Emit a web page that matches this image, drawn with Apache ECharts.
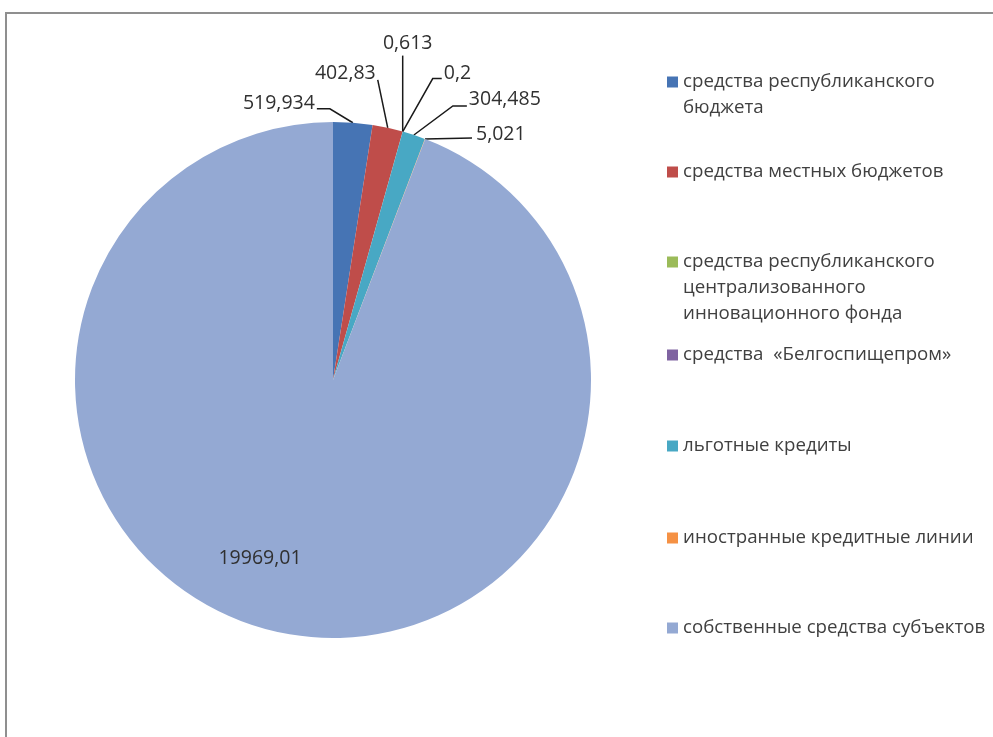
<!DOCTYPE html>
<html>
<head>
<meta charset="utf-8">
<script src="https://cdn.jsdelivr.net/npm/echarts@6/dist/echarts.min.js"></script>
<style>
  html, body { margin: 0; padding: 0; background: #ffffff; }
  #chart { width: 993px; height: 737px; }
</style>
</head>
<body>
<div id="chart"></div>
<script>
// Funding sources (legend names; "\n" marks where the legend text wraps)
const categories = [
  'средства республиканского\nбюджета',
  'средства местных бюджетов',
  'средства республиканского\nцентрализованного\nинновационного фонда',
  'средства  «Белгоспищепром»',
  'льготные кредиты',
  'иностранные кредитные линии',
  'собственные средства субъектов'
];
const values = [519.934, 402.83, 0.613, 0.2, 304.485, 5.021, 19969.01];
const colors = ['#4674B4', '#BF4D4A', '#9BBB59', '#7F63A1', '#48A8C4', '#F59144', '#94A9D3'];

const FONT = '"Open Sans", "Noto Sans", sans-serif';
const TEXT_COLOR = '#404040';
const LINE_H = 26;

// first-line centre of each legend entry
const legendRows = [82, 172, 262, 355, 446, 538, 628];

// leader-line layout, relative to the slice's anchor point on the rim
const calloutLayout = [
  { line: [[-23, -14], [-36, -14]], text: [-38, -19], align: 'right' },
  { line: [[-10, -48], [-10, -48]], text: [-12, -54], align: 'right' },
  { line: [[0, -76], [0, -76]],     text: [5, -88],   align: 'center' },
  { line: [[30, -53], [39, -53]],   text: [41, -58],  align: 'left' },
  { line: [[39, -29], [53, -29]],   text: [55, -36],  align: 'left' },
  { line: [[47, -1], [47, -1]],     text: [51, -5],   align: 'left' },
  null
];
const bigLabelShift = [-73, 178];

const fmt = v => String(v).replace('.', ',');

const richLegend = { t: { fontSize: 18.7, fontFamily: FONT, color: TEXT_COLOR, lineHeight: LINE_H },
                     g: { width: 5, lineHeight: LINE_H },
                     s: { width: 16, lineHeight: LINE_H } };
colors.forEach((c, i) => {
  richLegend['m' + i] = { width: 11, height: 11, backgroundColor: c, lineHeight: LINE_H };
});

const legends = categories.map((name, i) => ({
  data: [name],
  orient: 'vertical',
  left: 662,
  top: legendRows[i] - LINE_H / 2,
  padding: 0,
  itemWidth: 0,
  itemHeight: 0,
  selectedMode: false,
  formatter: n => n.split('\n').map((ln, k) =>
    (k === 0 ? '{m' + i + '|}{g|}' : '{s|}') + '{t|' + ln + '}').join('\n'),
  textStyle: { rich: richLegend, lineHeight: LINE_H }
}));

const pieData = categories.map((name, i) => {
  const item = { name: name, value: values[i], itemStyle: { color: colors[i] } };
  if (!calloutLayout[i]) {
    item.label = { position: 'inside' };
    item.labelLine = { show: false };
  }
  return item;
});

const chart = echarts.init(document.getElementById('chart'));
chart.setOption({
  backgroundColor: '#ffffff',
  animation: false,
  graphic: [{
    type: 'rect',
    shape: { x: 6, y: 13, width: 1000, height: 1000 },
    style: { fill: 'none', stroke: '#8f8f8f', lineWidth: 2 },
    silent: true
  }],
  legend: legends,
  series: [{
    type: 'pie',
    center: [333, 380],
    radius: 258,
    startAngle: 90,
    clockwise: true,
    avoidLabelOverlap: false,
    itemStyle: { borderWidth: 0 },
    label: {
      show: true,
      position: 'outside',
      formatter: p => fmt(p.value),
      fontSize: 19.5,
      fontFamily: FONT,
      color: '#303030'
    },
    labelLine: { show: true, length: 10, length2: 10, lineStyle: { color: '#1a1a1a', width: 1.5 } },
    emphasis: { disabled: true },
    labelLayout: function (p) {
      const cfg = calloutLayout[p.dataIndex];
      if (!cfg) {
        const cx = p.rect.x + p.rect.width / 2;
        const cy = p.rect.y + p.rect.height / 2;
        return { x: cx + bigLabelShift[0], y: cy + bigLabelShift[1], align: 'center', verticalAlign: 'middle' };
      }
      const a = p.labelLinePoints[0];
      const pts = [[a[0], a[1]]].concat(cfg.line.map(d => [a[0] + d[0], a[1] + d[1]]));
      return {
        x: a[0] + cfg.text[0],
        y: a[1] + cfg.text[1],
        align: cfg.align,
        verticalAlign: 'middle',
        labelLinePoints: pts
      };
    },
    data: pieData
  }]
});
</script>
</body>
</html>
